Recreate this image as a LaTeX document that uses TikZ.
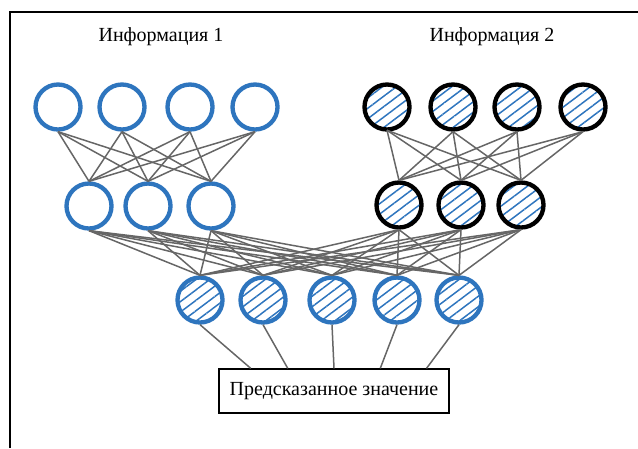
\documentclass[tikz,border=0pt]{standalone}
\usepackage{fontspec}
\setmainfont{Liberation Serif}
\usetikzlibrary{patterns.meta,calc}
\definecolor{bl}{RGB}{46,117,190}
\definecolor{gr}{gray}{.4}
\tikzset{neur/.style={circle, draw=bl, line width=2.6pt, minimum size=27pt, inner sep=0pt}}
\tikzset{hatch/.style={pattern={Lines[angle=37, distance=5pt, line width=.9pt]}, pattern color=bl}}
\tikzset{blk/.style={draw=black}}
\tikzset{wire/.style={gr, line width=.9pt}}

\begin{document}
\begin{tikzpicture}[x=.6pt, y=-.6pt, font=\fontsize{12}{14}\selectfont]
    \useasboundingbox (0,0) rectangle (638,448);
    \draw[line width=.9pt] (10,448) -- (10,12) -- (638,12);
    \node (t1) at (161,37) {Информация 1};
    \node (t2) at (492,37) {Информация 2};
    % layers
    \foreach \x[count=\i] in {58,122,190,255}
        \node[neur] (a\i) at (\x,107) {};
    \foreach \x[count=\i] in {387,453,517,583}
        \node[neur, hatch, blk] (b\i) at (\x,107) {};
    \foreach \x[count=\i] in {89,148,211}
        \node[neur] (c\i) at (\x,206) {};
    \foreach \x[count=\i] in {399,461,521}
        \node[neur, hatch, blk] (d\i) at (\x,205) {};
    \foreach \x[count=\i] in {200,263,332,397,459}
        \node[neur, hatch] (e\i) at (\x,300) {};
    \node[draw, line width=.8pt, minimum width=138pt, minimum height=26.4pt] (pred) at (334,391) {Предсказанное значение};
    % connections
    \begin{scope}[wire]
        \foreach \i in {1,...,4} \foreach \j in {1,...,3} {
            \draw (a\i.south) -- (c\j.north);
            \draw (b\i.south) -- (d\j.north);
        }
        \foreach \i in {1,...,3} \foreach \j in {1,...,5} {
            \draw (c\i.south) -- (e\j.north);
            \draw (d\i.south) -- (e\j.north);
        }
        \foreach \f[count=\j] in {.14,.3,.5,.7,.9}
            \draw (e\j.south) -- ($(pred.north west)!\f!(pred.north east)$);
    \end{scope}
\end{tikzpicture}
\end{document}
